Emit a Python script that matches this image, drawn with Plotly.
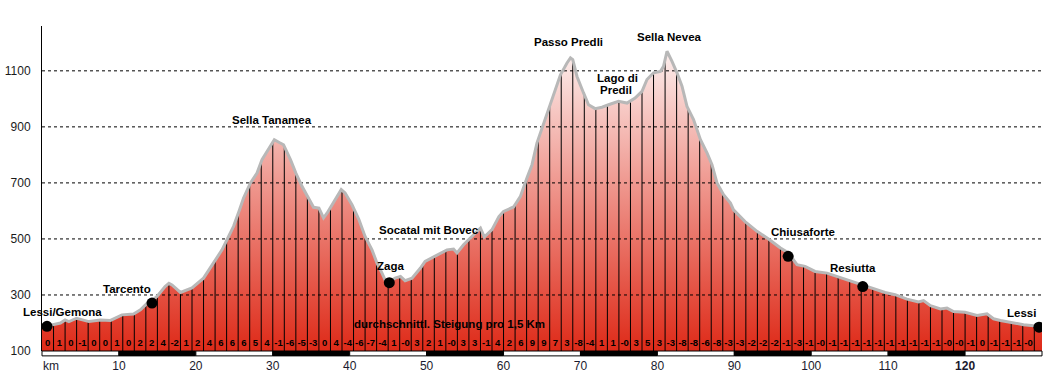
import numpy as np
import plotly.graph_objects as go

# ---- profile data (km, elevation m) ----
km = [0.0, 1.4, 2.4, 3.0, 3.5, 4.5, 6.1, 7.6, 8.9, 10.4, 11.9, 12.8, 13.7, 14.3, 14.95,
      16.0, 16.5, 16.9, 18.0, 19.5, 21.0, 22.3, 23.4, 24.05, 24.9, 25.6, 26.2, 27.1, 27.95,
      28.6, 29.5, 30.2, 30.85, 31.4, 32.3, 33.0, 33.8, 34.7, 35.3, 36.0, 36.6, 37.05, 37.7,
      38.9, 39.4, 40.3, 41.2, 42.0, 42.9, 43.55, 44.2, 44.6, 45.3, 45.9, 46.6, 47.2, 48.1,
      49.2, 49.8, 51.1, 52.65, 53.5, 53.95, 54.8, 56.1, 57.0, 57.5, 58.5, 59.4, 60.0, 61.3,
      62.2, 63.05, 63.7, 64.35, 65.9, 66.7, 67.4, 68.25, 68.7, 69.0, 69.55, 70.4, 71.05,
      71.9, 72.8, 73.65, 74.95, 76.05, 77.1, 78.0, 78.65, 79.5, 80.4, 80.8, 81.25, 81.9,
      82.55, 83.2, 83.85, 84.7, 85.6, 86.45, 87.1, 87.75, 88.6, 89.5, 89.9, 91.4, 92.95,
      94.45, 96.0, 97.05, 98.15, 99.2, 100.5, 102.05, 103.35, 105.1, 106.7, 107.85, 108.7,
      109.6, 110.9, 112.45, 113.95, 114.6, 115.5, 116.8, 117.65, 118.5, 120.0, 121.55,
      122.85, 123.7, 124.6, 125.9, 127.6, 128.9, 129.6, 130.0]
elev = [194, 194, 200, 211, 205, 217, 205, 211, 209, 229, 232, 247, 271, 280, 295,
        330, 342, 336, 309, 325, 360, 414, 461, 497, 545, 598, 646, 700, 735,
        783, 825, 854, 844, 836, 783, 735, 688, 646, 613, 610, 575, 592, 622,
        676, 664, 622, 569, 509, 461, 414, 378, 354, 350, 360, 366, 351, 360,
        396, 420, 440, 461, 464, 450, 479, 514, 539, 507, 533, 580, 598, 614,
        652, 718, 765, 843, 968, 1033, 1086, 1128, 1146, 1140, 1080, 1021, 979,
        965, 970, 979, 991, 985, 1003, 1027, 1069, 1093, 1098, 1116, 1170, 1134,
        1093, 1045, 973, 926, 854, 807, 765, 700, 658, 628, 604, 562, 527,
        500, 468, 450, 408, 402, 384, 378, 366, 348, 334, 325, 316,
        309, 301, 285, 275, 280, 262, 250, 253, 241, 238, 227,
        233, 215, 209, 202, 194, 190, 186, 186]

# average gradient (%) per 1.5 km segment
grad_labels = ["0", "1", "0", "-1", "0", "0", "1", "0", "2", "2", "4", "-2", "1", "2", "4",
               "6", "6", "6", "5", "4", "-1", "-6", "-5", "-3", "0", "4", "-4",
               "-6", "-7", "-4", "1", "-0", "3", "2", "1", "-0", "3", "3", "-1", "4", "2",
               "6", "9", "9", "7", "3", "-8", "-4", "1", "1", "-0", "3", "5", "3", "-3", "-8",
               "-8", "-6", "-8", "-3", "-3", "-2", "-2", "-2", "-1", "-3", "-1", "-0", "-1",
               "-1", "-1", "-1", "-1", "-1", "-1", "-1", "-1", "-1", "-0", "-0", "-1", "0",
               "-1", "-1", "-1", "-0"]
seg_len = 1.5

# places with markers
place_names = ["Lessi/Gemona", "Tarcento", "Zaga", "Chiusaforte", "Resiutta", "Lessi"]
place_km = [0.65, 14.3, 45.15, 97.0, 106.7, 129.6]
place_elev = [188, 271, 344, 438, 330, 185]

y_ticks = [100, 300, 500, 700, 900, 1100]
x_ticks = [10, 20, 30, 40, 50, 60, 70, 80, 90, 100, 110, 120]
x_ticktext = ["10", "20", "30", "40", "50", "60", "70", "80", "90", "100", "110", "<b>120</b>"]

X_MAX = 130
Y_MIN, Y_MAX = 100, 1260
FONT = "Liberation Sans"

fig = go.Figure()

# filled profile with vertical gradient
fig.add_trace(go.Scatter(
    x=km, y=elev, mode="lines", line=dict(width=0), fill="tozeroy",
    fillgradient=dict(type="vertical", start=Y_MIN, stop=Y_MAX,
                      colorscale=[[0, "#de2a18"], [1, "#ffffff"]]),
))

# dashed gridlines (drawn above the fill)
gx, gy = [], []
for v in y_ticks[1:]:
    gx += [0, X_MAX, None]
    gy += [v, v, None]
fig.add_trace(go.Scatter(x=gx, y=gy, mode="lines",
                         line=dict(color="black", width=1, dash="3px,3px")))

# vertical segment lines every 1.5 km
bar_km = np.arange(seg_len, X_MAX, seg_len)
bar_top = np.interp(bar_km, km, elev)
vx, vy = [], []
for b, t in zip(bar_km, bar_top):
    vx += [b, b, None]
    vy += [Y_MIN, t, None]
fig.add_trace(go.Scatter(x=vx, y=vy, mode="lines", line=dict(color="black", width=1)))

# grey outline
fig.add_trace(go.Scatter(x=km, y=elev, mode="lines", line=dict(color="#b8b8b8", width=3)))

# place markers
fig.add_trace(go.Scatter(x=place_km, y=place_elev, mode="markers",
                         marker=dict(color="black", size=11, line=dict(width=0))))

# gradient labels
lab_x = [(i + 0.5) * seg_len for i in range(len(grad_labels))]
fig.add_trace(go.Scatter(
    x=lab_x, y=[128] * len(lab_x), mode="text", text=grad_labels,
    textfont=dict(family=FONT, size=9.5, color="black", weight="bold"),
    textposition="middle center",
))

# place label annotations (text centre in data coords)
labels = [
    ("Lessi/Gemona", 2.64, 241), ("Tarcento", 11.05, 322), ("Sella Tanamea", 29.94, 926),
    ("Zaga", 45.35, 402), ("Socatal mit Bovec", 50.26, 533), ("Passo Predli", 68.4, 1203),
    ("Lago di", 74.8, 1075), ("Predil", 74.66, 1033), ("Sella Nevea", 81.6, 1221),
    ("Chiusaforte", 98.95, 523), ("Resiutta", 105.45, 398), ("Lessi", 127.3, 237),
    ("durchschnittl. Steigung pro 1,5 Km", 52.93, 197),
]
for txt, lx, ly in labels:
    fig.add_annotation(x=lx, y=ly, text=txt, showarrow=False, xanchor="center", yanchor="middle",
                       font=dict(family=FONT, size=11.5, color="black", weight="bold"))

# "km" label
fig.add_annotation(x=0, y=-0.046, xref="x", yref="paper", text="km", showarrow=False,
                   xanchor="left", yanchor="middle", xshift=-1,
                   font=dict(family=FONT, size=12, color="#1a1a2e"))

# 10-km scale bar below the axis
n_seg = X_MAX // 10
for i in range(n_seg):
    fig.add_shape(type="rect", xref="paper", yref="paper",
                  x0=i * 10 / X_MAX, x1=(i + 1) * 10 / X_MAX, y0=0, y1=-0.015,
                  fillcolor="white" if i % 2 == 0 else "black",
                  line=dict(color="black", width=1), layer="above")

fig.update_layout(
    width=1045, height=372,
    margin=dict(l=42, r=3, t=26, b=21, autoexpand=False),
    plot_bgcolor="white", paper_bgcolor="white",
    showlegend=False, hovermode=False,
    xaxis=dict(range=[0, X_MAX], showgrid=False, zeroline=False, showline=False,
               automargin=False, tickvals=x_ticks, ticktext=x_ticktext, ticks="",
               tickfont=dict(family=FONT, size=12, color="#1a1a2e"), ticklabelstandoff=6),
    yaxis=dict(range=[Y_MIN, Y_MAX], showgrid=False, zeroline=False, showline=True,
               automargin=False, linecolor="black", linewidth=1, tickvals=y_ticks, ticks="",
               tickfont=dict(family=FONT, size=12, color="#1a1a1a"), ticklabelstandoff=8),
)

fig.write_html("out.html", config={"displayModeBar": False},
               post_script="document.body.style.margin='0';document.body.style.overflow='hidden';")
